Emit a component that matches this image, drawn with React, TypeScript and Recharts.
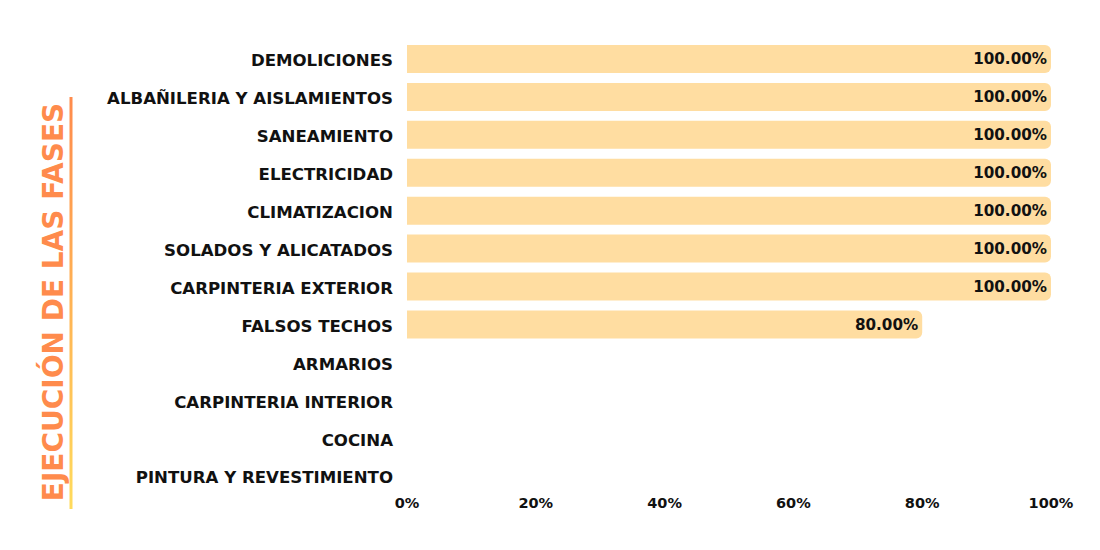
import React from 'react';
import { BarChart, Bar, XAxis, YAxis, LabelList } from 'recharts';

const phases = [
  'DEMOLICIONES',
  'ALBAÑILERIA Y AISLAMIENTOS',
  'SANEAMIENTO',
  'ELECTRICIDAD',
  'CLIMATIZACION',
  'SOLADOS Y ALICATADOS',
  'CARPINTERIA EXTERIOR',
  'FALSOS TECHOS',
  'ARMARIOS',
  'CARPINTERIA INTERIOR',
  'COCINA',
  'PINTURA Y REVESTIMIENTO',
];
const progress = [100, 100, 100, 100, 100, 100, 100, 80, 0, 0, 0, 0];
const xTicks = [0, 20, 40, 60, 80, 100];
const title = 'EJECUCIÓN DE LAS FASES';

const FONT = "'DejaVu Sans', sans-serif";

const data = phases.map((name, i) => ({ name, value: progress[i] }));

export default function App() {
  return (
    <div style={{ position: 'absolute', left: 0, top: 0, width: 1100, height: 550, background: '#fff' }}>
      <BarChart
        width={1100}
        height={550}
        data={data}
        layout="vertical"
        margin={{ top: 40, right: 49, left: 0, bottom: 25 }}
        style={{ fontFamily: FONT }}
      >
        <XAxis
          type="number"
          domain={[0, 100]}
          ticks={xTicks}
          tickFormatter={(v) => `${v}%`}
          axisLine={false}
          tickLine={false}
          tickSize={0}
          tickMargin={3}
          height={30}
          interval={0}
          tick={{ fill: '#111', fontSize: 14.5, fontWeight: 600 }}
        />
        <YAxis
          type="category"
          dataKey="name"
          width={407}
          axisLine={false}
          tickLine={false}
          tickSize={0}
          tickMargin={14}
          interval={0}
          tick={{ fill: '#111', fontSize: 16.6, fontWeight: 600, dy: 1.5 }}
        />
        <Bar
          dataKey="value"
          fill="#FFDDA1"
          barSize={28}
          radius={[0, 6, 6, 0]}
          isAnimationActive={false}
        >
          <LabelList
            dataKey="value"
            position="insideRight"
            offset={4}
            formatter={(v: any) => (v ? `${Number(v).toFixed(2)}%` : '')}
            style={{ fill: '#111', fontSize: 15.2, fontWeight: 600, fontFamily: FONT }}
          />
        </Bar>
      </BarChart>
      <svg
        width={100}
        height={550}
        style={{ position: 'absolute', left: 0, top: 0, pointerEvents: 'none' }}
      >
        <defs>
          <linearGradient id="titleLine" x1="0" y1="0" x2="0" y2="1">
            <stop offset="0%" stopColor="#FF8B4C" />
            <stop offset="100%" stopColor="#FFDB5C" />
          </linearGradient>
        </defs>
        <text
          x={0}
          y={0}
          transform="translate(63, 302) rotate(-90)"
          textAnchor="middle"
          fill="#FF8B4C"
          fontSize={28}
          fontWeight={700}
          fontFamily={FONT}
        >
          {title}
        </text>
        <rect x={69.5} y={97} width={3} height={412} fill="url(#titleLine)" />
      </svg>
    </div>
  );
}
